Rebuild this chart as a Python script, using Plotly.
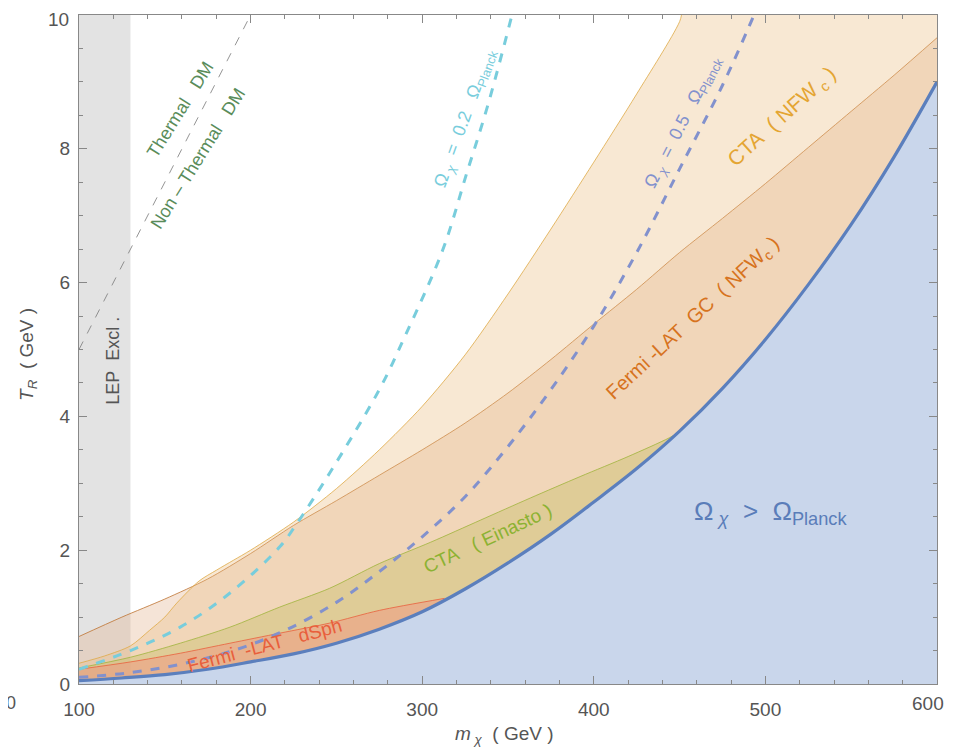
import numpy as np
import plotly.graph_objects as go

# ---------------- data ----------------
planck_m = [100, 125, 150, 175, 200, 225, 250, 275, 300, 325, 350, 375, 400, 425, 450, 475, 500, 525, 550, 575, 600]
planck_T = [0.05, 0.09, 0.14, 0.22, 0.33, 0.45, 0.61, 0.82, 1.08, 1.42, 1.81, 2.24, 2.72, 3.22, 3.78, 4.42, 5.15, 5.97, 6.87, 7.88, 9.00]

gc_m = [100, 125, 150, 175, 200, 225, 250, 275, 300, 325, 350, 375, 400, 425, 450, 475, 500, 525, 550, 575, 600]
gc_T = [0.71, 1.00, 1.27, 1.57, 1.95, 2.37, 2.74, 3.12, 3.50, 3.90, 4.35, 4.85, 5.38, 5.90, 6.45, 6.96, 7.48, 8.02, 8.56, 9.10, 9.66]

cta_nfw_m = [100, 115, 130, 141, 150, 157, 170, 180, 190, 200, 225, 250, 275, 300, 325, 350, 375, 400, 425, 450, 455, 600]
cta_nfw_T = [0.31, 0.42, 0.57, 0.80, 1.00, 1.21, 1.54, 1.70, 1.85, 2.00, 2.42, 2.92, 3.50, 4.15, 4.92, 5.83, 6.80, 7.80, 8.82, 9.90, 10.3, 10.3]

ein_m = [100, 130, 159, 188, 217, 246, 275, 305, 334, 363, 392, 420, 444, 452]
ein_T = [0.24, 0.40, 0.61, 0.85, 1.15, 1.43, 1.80, 2.12, 2.45, 2.78, 3.10, 3.40, 3.68, 3.80]

dsph_m = [100, 130, 159, 188, 217, 246, 275, 313]
dsph_T = [0.22, 0.33, 0.46, 0.61, 0.76, 0.91, 1.10, 1.28]

om02_m = [100, 130, 159, 188, 217, 227, 246, 275, 290, 312, 326, 338, 352, 356]
om02_T = [0.22, 0.50, 0.85, 1.36, 2.05, 2.40, 3.15, 4.40, 5.20, 6.49, 7.64, 8.63, 9.97, 10.4]

om05_m = [100, 130, 160, 190, 220, 250, 275, 300, 325, 350, 375, 400, 425, 450, 475, 490, 495]
om05_T = [0.10, 0.17, 0.30, 0.50, 0.80, 1.22, 1.68, 2.20, 2.80, 3.55, 4.40, 5.35, 6.45, 7.70, 8.95, 9.80, 10.1]

thermal_m = [100, 200]
thermal_T = [5.0, 10.0]

lep_m = [100, 130]

x_ticks = [100, 200, 300, 400, 500, 600]
x_labels = ["100", "200", "300", "400", "500", "600"]
y_ticks = [0, 2, 4, 6, 8, 10]
y_labels = ["0", "2", "4", "6", "8", "10"]

FONT = "Liberation Sans, Arial, sans-serif"
GREY = "#555555"
SP = "&nbsp;"

fig = go.Figure()

# LEP exclusion band
fig.add_shape(type="rect", xref="x", yref="y", x0=lep_m[0], x1=lep_m[1], y0=0, y1=10,
              fillcolor="#e3e3e3", line=dict(width=0), layer="below")

# Regions (translucent, to zero; the Planck region covers the bottom)
def region(mx, ty, fill, line):
    fig.add_trace(go.Scatter(x=mx, y=ty, mode="lines", fill="tozeroy", fillcolor=fill,
                             line=dict(color=line, width=0.8, shape="spline", smoothing=0.8),
                             hoverinfo="skip", showlegend=False))

region(gc_m, gc_T, "rgba(226,177,140,0.35)", "rgb(190,115,50)")
region(cta_nfw_m, cta_nfw_T, "rgba(235,189,129,0.35)", "rgb(222,170,70)")
region(ein_m, ein_T, "rgba(197,190,100,0.40)", "rgb(160,180,60)")
region(dsph_m, dsph_T, "rgba(244,137,125,0.40)", "rgb(232,95,60)")

# Planck region
fig.add_trace(go.Scatter(x=planck_m, y=planck_T, mode="lines", fill="tozeroy",
                         fillcolor="rgb(201,214,235)", line=dict(color="rgb(91,127,189)", width=3.2, shape="spline"),
                         hoverinfo="skip", showlegend=False))

# Dashed relic lines
fig.add_trace(go.Scatter(x=om02_m, y=om02_T, mode="lines",
                         line=dict(color="rgb(120,205,220)", width=3, dash="dash", shape="spline"),
                         hoverinfo="skip", showlegend=False))
fig.add_trace(go.Scatter(x=om05_m, y=om05_T, mode="lines",
                         line=dict(color="rgb(130,145,205)", width=3, dash="dash", shape="spline"),
                         hoverinfo="skip", showlegend=False))
fig.add_trace(go.Scatter(x=thermal_m, y=thermal_T, mode="lines",
                         line=dict(color="rgb(120,120,120)", width=0.8, dash="dash"),
                         hoverinfo="skip", showlegend=False))

# Text labels
def label(x, y, text, color, size, angle=0):
    fig.add_annotation(x=x, y=y, xref="x", yref="y", text=text, showarrow=False,
                       xanchor="center", yanchor="middle",
                       textangle=angle, font=dict(family=FONT, size=size, color=color))

OMX = "Ω<sub> <i>χ</i></sub>"
OMP = "Ω<sub>Planck</sub>"
label(158.9, 8.58, "Thermal" + SP * 3 + "DM", "rgb(90,140,90)", 18, -58)
label(169.5, 7.86, "Non &#8211; Thermal" + SP * 3 + "DM", "rgb(90,140,90)", 18, -58)
label(119.8, 4.83, "LEP" + SP * 2 + "Excl .", "#555555", 18, -90)
label(325, 8.46, OMX + SP * 2 + "=" + SP * 2 + "0.2" + SP * 3 + OMP, "rgb(120,205,220)", 18, -70)
label(452, 8.40, OMX + SP * 2 + "=" + SP * 2 + "0.5" + SP * 3 + OMP, "rgb(130,145,205)", 18, -63)
label(510, 8.47, "CTA" + SP * 2 + "( NFW<sub> c</sub> )", "rgb(228,165,50)", 21, -42)
label(458, 5.47, "Fermi -LAT" + SP * 2 + "GC" + SP * 2 + "( NFW<sub>c</sub> )", "rgb(215,115,30)", 20, -43)
label(338, 2.18, "CTA" + SP * 3 + "( Einasto )", "rgb(140,178,50)", 19, -25)
label(208, 0.58, "Fermi" + SP * 2 + "-LAT" + SP * 3 + "dSph", "rgb(232,95,60)", 19, -15)
label(503, 2.57, OMX + SP * 2 + "&gt;" + SP * 2 + OMP, "rgb(90,125,185)", 26, 0)

# Axis titles
fig.add_annotation(x=0.4965, y=-0.0755, xref="paper", yref="paper", showarrow=False,
                   xanchor="center", yanchor="middle",
                   text="<i>m</i><sub> <i>χ</i></sub>" + SP * 2 + "( GeV )",
                   font=dict(family=FONT, size=19, color=GREY))
fig.add_annotation(x=-0.0594, y=0.492, xref="paper", yref="paper", showarrow=False, textangle=-90,
                   xanchor="center", yanchor="middle",
                   text="<i>T</i><sub><i>R</i></sub>" + SP * 2 + "( GeV )",
                   font=dict(family=FONT, size=19, color=GREY))
fig.add_annotation(x=-0.0711, y=-0.029, xref="paper", yref="paper", showarrow=False,
                   xanchor="right", yanchor="middle",
                   text="00", font=dict(family=FONT, size=18, color=GREY))

# Edge tick labels drawn as annotations so they stay inside the page
fig.add_annotation(x=1.0105, y=-0.029, xref="paper", yref="paper", showarrow=False,
                   xanchor="right", yanchor="middle",
                   text=x_labels[-1], font=dict(family=FONT, size=19, color=GREY))
fig.add_annotation(x=-0.009, y=1.012, xref="paper", yref="paper", showarrow=False,
                   xanchor="right", yanchor="top",
                   text=y_labels[-1], font=dict(family=FONT, size=19, color=GREY))

axis_common = dict(showgrid=False, zeroline=False, showline=True, linecolor="#888888", linewidth=1.3,
                   mirror="allticks", ticks="inside", ticklen=8, tickcolor="#888888", tickwidth=1,
                   ticklabeloverflow="allow", automargin=False,
                   tickfont=dict(family=FONT, size=19, color=GREY))

fig.update_xaxes(range=[100, 600], tickvals=x_ticks, ticktext=x_labels[:-1] + [""], ticklabelstandoff=8,
                 minor=dict(ticks="inside", dtick=20, ticklen=4, tickcolor="#888888"), **axis_common)
fig.update_yaxes(range=[0, 10], tickvals=y_ticks, ticktext=y_labels[:-1] + [""], ticklabelstandoff=4,
                 minor=dict(ticks="inside", dtick=0.5, ticklen=4, tickcolor="#888888"), **axis_common)

# page body has an 8px margin: size the figure so that it fits the 955x755 window
fig.update_layout(width=939, height=739, margin=dict(l=71, r=10, t=7, b=63, autoexpand=False),
                  plot_bgcolor="white", paper_bgcolor="white", showlegend=False,
                  font=dict(family=FONT))

fig.write_html("out.html")
